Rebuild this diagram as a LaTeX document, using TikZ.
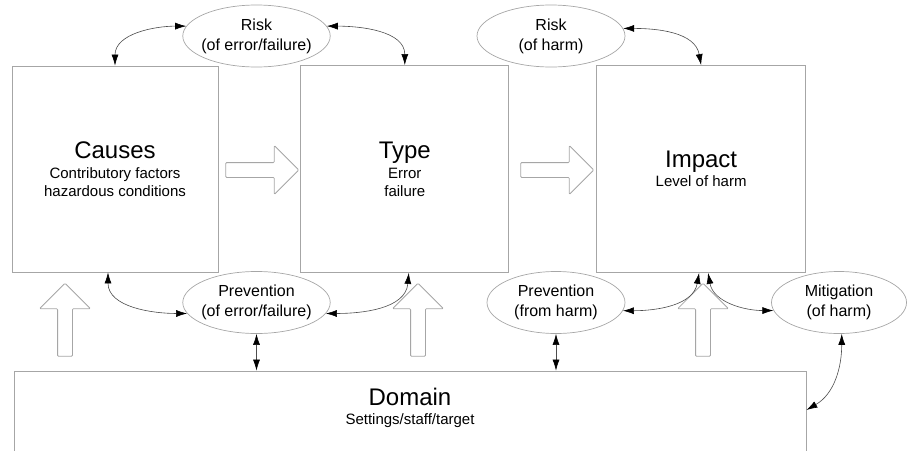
\documentclass[tikz,border=0pt]{standalone}
\usepackage{fontspec}
\setmainfont{Liberation Sans}
\usetikzlibrary{positioning}
\usetikzlibrary{shapes.geometric}
\usetikzlibrary{shapes.arrows}
\usetikzlibrary{arrows.meta}
\newcommand{\TitleFont}{\fontsize{24}{26}\selectfont}
\newcommand{\SubFont}{\fontsize{15}{18}\selectfont}
\newcommand{\OvalFont}{\fontsize{16}{20}\selectfont}
\tikzstyle{stage} = [rectangle,draw=gray!70,line width=0.8pt,align=center,font=\SubFont,inner sep=0pt]
\tikzstyle{oval} = [ellipse,draw=gray!70,line width=0.7pt,align=center,font=\OvalFont,minimum width=147pt,minimum height=62pt,inner xsep=-3pt,inner ysep=0pt]
\tikzstyle{flow} = [single arrow,draw=gray!70,line width=0.8pt,fill=white,inner sep=7pt,single arrow head extend=17pt,minimum height=73pt,rounded corners=1pt]
\tikzstyle{link} = [{Latex[length=11pt,width=7pt,color=black]}-{Latex[length=11pt,width=7pt,color=black]},draw=black!70,line width=0.6pt]

\begin{document}
\begin{tikzpicture}[x=1pt,y=-1pt]
\useasboundingbox (0,0) rectangle (907,450);
\clip (0,0) rectangle (907,450);

% Define nodes
\node[stage, minimum width=206pt, minimum height=206pt] at (115,169) (causes) {{\TitleFont Causes}\\[2pt]Contributory factors\\hazardous conditions};
\node[stage, minimum width=208pt, minimum height=207pt, right = 82pt of causes] (type) {{\TitleFont Type}\\[2pt]Error\\failure};
\node[stage, minimum width=209pt, minimum height=207pt, right = 87pt of type] (impact) {{\TitleFont Impact}\\[1pt]Level of harm};
\node[stage, minimum width=792pt, minimum height=120pt] at (410,431) (domain) {};
\node[below = 17pt of domain.north, align=center, font=\SubFont, inner sep=0pt] (domaintxt) {{\TitleFont Domain}\\[1pt]Settings/staff/target};

\node[oval] at (256.5,36)  (riskEF) {Risk\\(of error/failure)};
\node[oval, minimum width=148pt] at (551,36) (riskH) {Risk\\(of harm)};
\node[oval] at (256.5,302.5) (prevEF) {Prevention\\(of error/failure)};
\node[oval, minimum width=138pt] at (556,302.5) (prevH) {Prevention\\(from harm)};
\node[oval, minimum width=135pt] at (839,302.5) (mitig) {Mitigation\\(of harm)};

% Block arrows
\node[flow] at (258.5,170) (f1) {};
\node[flow] at (553.5,170) (f2) {};
\node[flow, shape border rotate=90, single arrow head extend=18pt] at (65,323.5)  (u1) {};
\node[flow, shape border rotate=90, single arrow head extend=18pt] at (418,323.5) (u2) {};
\node[flow, shape border rotate=90, single arrow head extend=18pt] at (703,323.5) (u3) {};

% Edges
\draw[link] (causes.north) to[out=90, in=180] (riskEF.172);
\draw[link] (riskEF.8) to[out=0, in=90] (type.north);
\draw[link] (riskH.6) to[out=0, in=100] (impact.north);
\draw[link] ([xshift=-7pt]causes.south) to[out=-90, in=180] (prevEF.189);
\draw[link] (prevEF.351) to[out=0, in=-95] ([xshift=4pt]type.south);
\draw[link] (prevEF.south) -- (prevEF.south |- domain.north);
\draw[link] (prevH.353) to[out=0, in=-100] ([xshift=-2pt]impact.south);
\draw[link] (prevH.south) -- (prevH.south |- domain.north);
\draw[link] (mitig.187) to[out=180, in=-80] ([xshift=7pt]impact.south);
\draw[link] (mitig.-85) to[out=-90, in=30] ([yshift=21pt]domain.east);

\end{tikzpicture}
\end{document}
